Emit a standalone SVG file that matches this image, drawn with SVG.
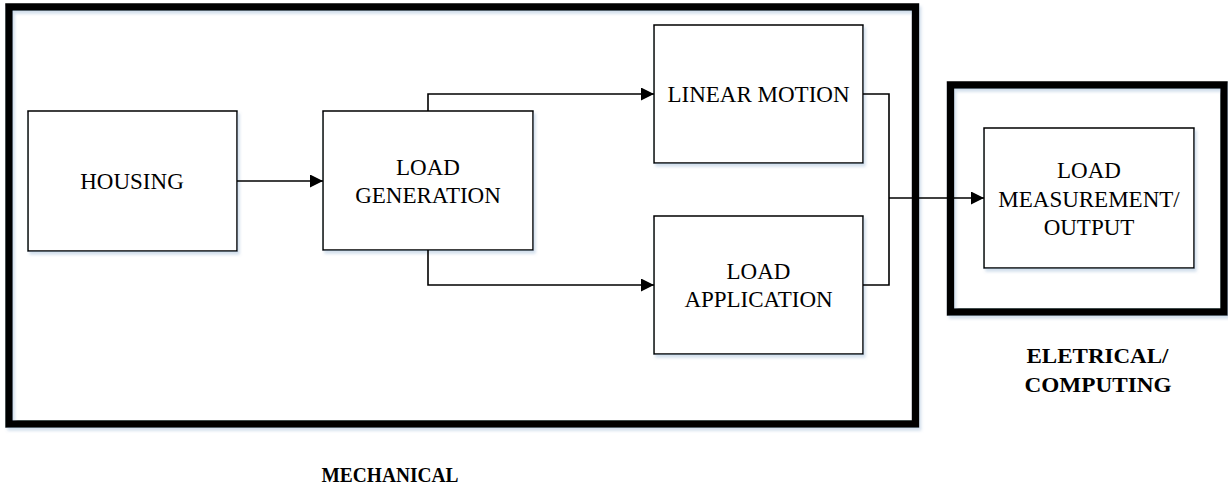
<svg xmlns="http://www.w3.org/2000/svg" width="1228" height="488" viewBox="0 0 1228 488">
<defs>
<style>
.frame{fill:none;stroke:#000;stroke-width:7.5}
.box{fill:#fff;stroke:#000;stroke-width:1.5}
.wire{fill:none;stroke:#000;stroke-width:1.6}
text{font-family:'Liberation Serif','Times New Roman',serif;fill:#000;text-anchor:middle}
.t{font-size:23px}
.b{font-size:21px;font-weight:bold}
</style>
<marker id="arr" markerUnits="userSpaceOnUse" markerWidth="14" markerHeight="14" refX="13" refY="6.5" orient="auto">
<path d="M0,0 L13,6.5 L0,13 Z" fill="#000"/>
</marker>
<filter id="sh" x="-10%" y="-10%" width="130%" height="130%">
<feDropShadow dx="2" dy="3" stdDeviation="1.5" flood-color="#9bb7d6" flood-opacity="0.45"/>
</filter>
</defs>
<rect width="1228" height="488" fill="#fff"/>

<g id="mechanical">
<rect class="frame" x="9" y="7" width="906.5" height="417" filter="url(#sh)"/>
<text class="b" x="390" y="482" textLength="137" lengthAdjust="spacingAndGlyphs">MECHANICAL</text>
</g>

<g id="electrical">
<rect class="frame" x="950.5" y="85" width="273.5" height="227" filter="url(#sh)"/>
<text class="b" x="1097.5" y="363" textLength="142" lengthAdjust="spacingAndGlyphs">ELETRICAL/</text>
<text class="b" x="1098" y="392" textLength="147" lengthAdjust="spacingAndGlyphs">COMPUTING</text>
</g>

<g id="housing">
<rect class="box" x="28" y="111" width="209" height="140" filter="url(#sh)"/>
<text class="t" x="132" y="189">HOUSING</text>
</g>

<g id="load-generation">
<rect class="box" x="323" y="111" width="210" height="139" filter="url(#sh)"/>
<text class="t" x="428" y="175">LOAD</text>
<text class="t" x="428" y="203">GENERATION</text>
</g>

<g id="linear-motion">
<rect class="box" x="654" y="25" width="209" height="138" filter="url(#sh)"/>
<text class="t" x="758.5" y="102">LINEAR MOTION</text>
</g>

<g id="load-application">
<rect class="box" x="654" y="216" width="209" height="138" filter="url(#sh)"/>
<text class="t" x="758.5" y="279">LOAD</text>
<text class="t" x="758.5" y="307">APPLICATION</text>
</g>

<g id="load-measurement">
<rect class="box" x="984" y="128" width="210" height="140" filter="url(#sh)"/>
<text class="t" x="1089" y="178">LOAD</text>
<text class="t" x="1089" y="206.5">MEASUREMENT/</text>
<text class="t" x="1089" y="234.5">OUTPUT</text>
</g>

<g id="connectors">
<path class="wire" d="M237,181 H323" marker-end="url(#arr)"/>
<path class="wire" d="M428,111 V94 H654" marker-end="url(#arr)"/>
<path class="wire" d="M428,250 V285 H654" marker-end="url(#arr)"/>
<path class="wire" d="M863,94 H889 V285 H863"/>
<path class="wire" d="M889,198 H984" marker-end="url(#arr)"/>
</g>
</svg>
